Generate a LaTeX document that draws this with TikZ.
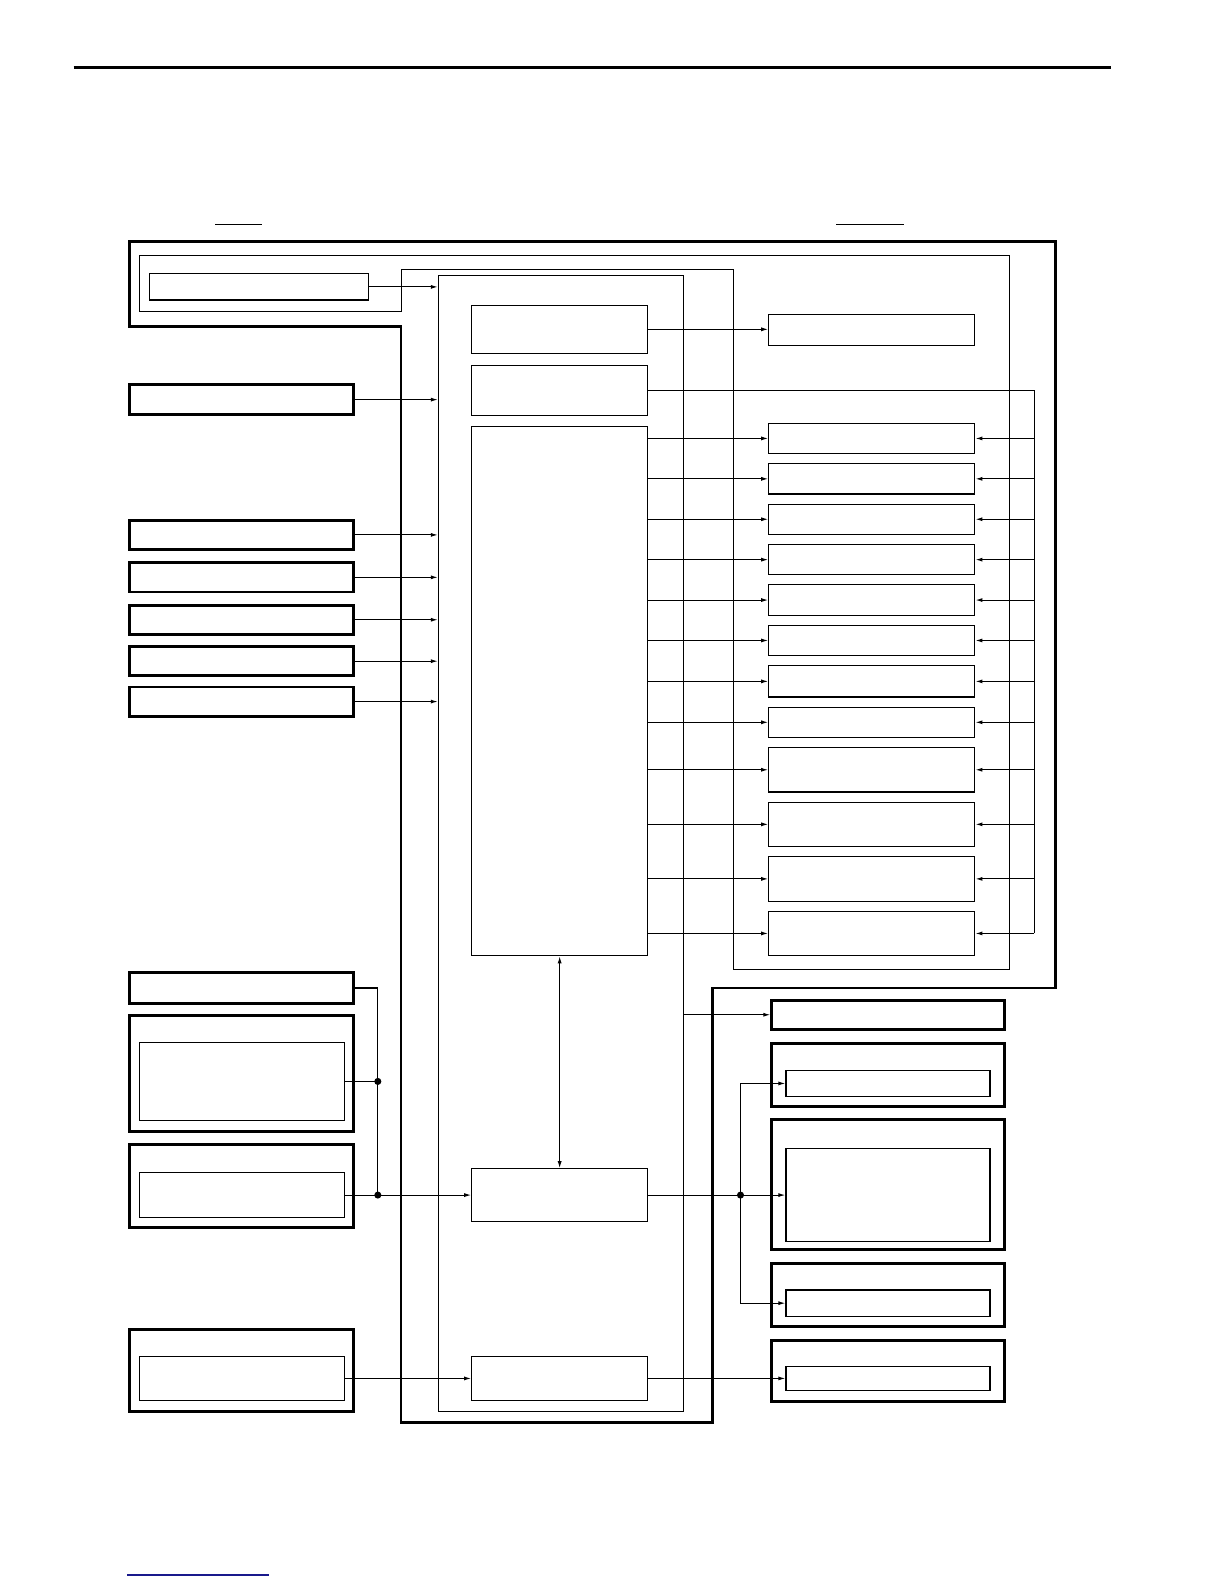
\documentclass[tikz,border=0pt]{standalone}
\usepackage{xcolor}
\usepackage{tikz}
\usetikzlibrary{arrows.meta, positioning, calc, fit}
\definecolor{linkblue}{RGB}{25,25,140}

\begin{document}
\begin{tikzpicture}[
    x=1pt, y=-1pt,
    box/.style={draw, line width=1.1pt, inner sep=0pt},
    frame/.style={draw, line width=2.8pt, inner sep=0pt},
    arrow/.style={-{Latex[length=7pt,width=4pt]}, line width=1.1pt},
    dot/.style={circle, fill, inner sep=0pt, minimum size=7pt}
]
    \useasboundingbox (0,0) rectangle (1212,1568);

    % page rules
    \draw[line width=3.5pt] (73,67) -- (1100,67);
    \draw[line width=1.2pt] (213,222) -- (259,222);
    \draw[line width=1.2pt] (828,222) -- (895,222);
    \draw[linkblue, line width=1.2pt] (126,1559) -- (266,1559);

    % outlines
    \draw[line width=2.8pt] (128,239) -- (1045,239) -- (1045,978) -- (705,978) -- (705,1408)
        -- (397,1408) -- (397,323) -- (128,323) -- cycle;
    \draw[line width=1.1pt] (138,253) -- (999,253) -- (999,960) -- (726,960) -- (726,267)
        -- (397,267) -- (397,308) -- (138,308) -- cycle;
    \node[box, fit={(434,273) (677,1397)}] (unit) {};

    % inner blocks
    \node[box, fit={(148,271) (365,297)}] (src) {};
    \node[box, fit={(467,302) (641,350)}] (ctlA) {};
    \node[box, fit={(467,362) (641,411)}] (ctlB) {};
    \node[box, fit={(467,422) (641,946)}] (core) {};
    \node[box, fit={(467,1157) (641,1209)}] (drv) {};
    \node[box, fit={(467,1343) (641,1386)}] (aux) {};

    % right column
    \node[box, fit={(761,311) (965,342)}] (out0) {};
    \foreach \i/\t/\b in {1/419/449, 2/459/489, 3/499/529, 4/539/569, 5/579/609, 6/619/649,
                          7/659/690, 8/700/730, 9/740/784, 10/794/838, 11/848/892, 12/902/946}
        \node[box, fit={(761,\t) (965,\b)}] (out\i) {};

    % left inputs
    \foreach \i/\t/\b in {1/380.6/410.6, 2/515/544, 3/557/586, 4/599/628, 5/640/669, 6/680/709}
        \node[frame, fit={(128,\t) (350,\b)}] (in\i) {};
    \node[frame, fit={(128,963) (350,993)}] (sw) {};
    \node[frame, fit={(128,1005) (350,1120)}] (sensA) {};
    \node[box, fit={(138,1032) (341,1109)}] (sensAin) {};
    \node[frame, fit={(128,1133) (350,1215)}] (sensB) {};
    \node[box, fit={(138,1161) (341,1205)}] (sensBin) {};
    \node[frame, fit={(128,1316) (350,1397)}] (sensC) {};
    \node[box, fit={(138,1343) (341,1386)}] (sensCin) {};

    % lower right outputs
    \node[frame, fit={(764,990) (994,1019)}] (lamp) {};
    \node[frame, fit={(764,1033) (994,1095)}] (actA) {};
    \node[box, fit={(778,1060) (980,1085)}] (actAin) {};
    \node[frame, fit={(764,1108) (994,1237)}] (actB) {};
    \node[box, fit={(778,1137) (980,1229)}] (actBin) {};
    \node[frame, fit={(764,1251) (994,1313)}] (actC) {};
    \node[box, fit={(778,1277) (980,1303)}] (actCin) {};
    \node[frame, fit={(764,1327) (994,1387)}] (actD) {};
    \node[box, fit={(778,1353) (980,1376)}] (actDin) {};

    \coordinate (bus) at (1024,0);
    \coordinate (jl) at (374,0);
    \coordinate (jr) at (733,0);

    % connectors
    \draw[arrow] (src.east) -- (src.east -| unit.west);
    \draw[arrow] (ctlA.east) -- (ctlA.east -| out0.west);
    \draw[line width=1.1pt] (ctlB.east) -- (bus |- ctlB.east) -- (bus |- out12.east);
    \foreach \i in {1,...,12} {
        \draw[arrow] (core.east |- out\i.west) -- (out\i.west);
        \draw[arrow] (bus |- out\i.east) -- (out\i.east);
    }
    \foreach \i in {1,...,6}
        \draw[arrow] (in\i.east) -- (in\i.east -| unit.west);
    \draw[{Latex[length=7pt,width=4pt]}-{Latex[length=7pt,width=4pt]}, line width=1.1pt] (core.south) -- (drv.north);

    \draw[line width=1.1pt] (sw.east) -- (jl |- sw.east) -- (jl |- sensBin.east);
    \draw[line width=1.1pt] (sensAin.east) -- (jl |- sensAin.east) node[dot] {};
    \draw[arrow] (sensBin.east) -- (sensBin.east -| drv.west);
    \node[dot] at (jl |- sensBin.east) {};
    \draw[arrow] (sensCin.east) -- (sensCin.east -| aux.west);

    \draw[arrow] (unit.east |- lamp.west) -- (lamp.west);
    \draw[arrow] (drv.east) -- (drv.east -| actBin.west);
    \node[dot] at (jr |- drv.east) {};
    \draw[line width=1.1pt] (jr |- actAin.west) -- (jr |- actCin.west);
    \draw[arrow] (jr |- actAin.west) -- (actAin.west);
    \draw[arrow] (jr |- actCin.west) -- (actCin.west);
    \draw[arrow] (aux.east) -- (aux.east -| actDin.west);
\end{tikzpicture}
\end{document}
